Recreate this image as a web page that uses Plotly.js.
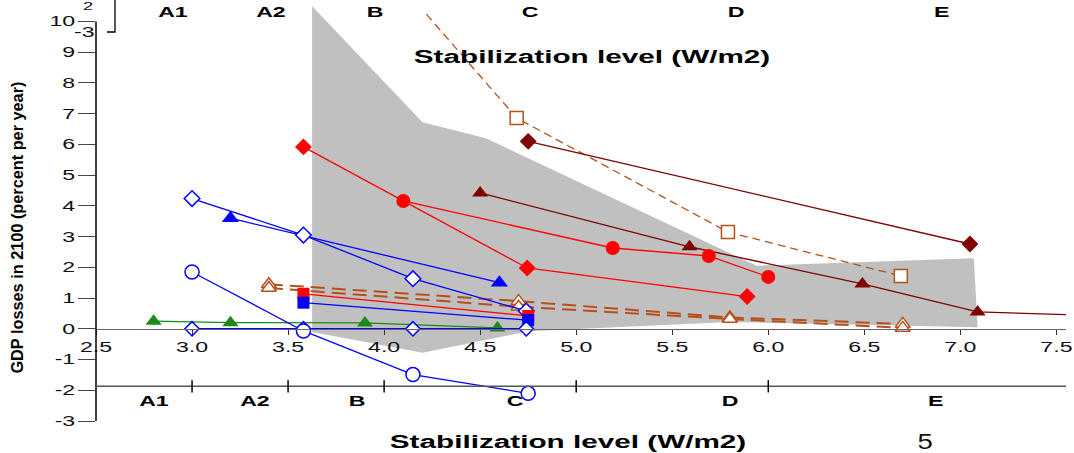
<!DOCTYPE html>
<html>
<head>
<meta charset="utf-8">
<script src="https://cdn.plot.ly/plotly-3.0.1.min.js"></script>
<style>html,body{margin:0;padding:0;background:#fff;}#chart{width:1074px;height:453px;}</style>
</head>
<body>
<div id="chart"></div>
<script>
// ---------- data ----------
const bandX = [3.625, 4.2, 4.53, 5.94, 7.07, 7.09, 5.8, 4.75, 4.2, 3.625];
const bandY = [10.5, 6.72, 6.2, 2.05, 2.3, 0.05, 0.22, -0.08, -0.78, -0.1];

const blueDiamondX = [3.0, 3.58, 4.15, 4.74];
const blueDiamondY = [4.24, 3.05, 1.63, 0.58];
const blueTriX = [3.2, 4.6];
const blueTriY = [3.6, 1.5];
const blueZeroX = [3.0, 3.58, 4.15, 4.74];
const blueZeroY = [0, 0, 0, 0];
const blueCircX = [3.0, 3.58, 4.15, 4.75];
const blueCircY = [1.85, -0.07, -1.49, -2.1];
const greenTriX = [2.8, 3.2, 3.9, 4.59];
const greenTriY = [0.25, 0.2, 0.19, 0.03];
const blueSqX = [3.58, 4.75];
const blueSqY = [0.85, 0.28];
const redSqX = [3.58, 4.75];
const redSqY = [1.14, 0.42];
const brownTriAX = [3.4, 4.7, 5.8, 6.7];
const brownTriAY = [1.45, 0.9, 0.37, 0.16];
const brownTriBX = [3.4, 4.7, 5.8, 6.7];
const brownTriBY = [1.33, 0.72, 0.32, 0.03];
const brownSqX = [4.22, 4.69, 5.79, 6.69];
const brownSqY = [10.24, 6.86, 3.15, 1.72];
const maroonDiaX = [4.75, 7.05];
const maroonDiaY = [6.1, 2.76];
const maroonTriX = [4.5, 5.59, 6.49, 7.09, 7.55];
const maroonTriY = [4.42, 2.67, 1.46, 0.55, 0.46];
const redDiaX = [3.58, 4.745, 5.89];
const redDiaY = [5.92, 1.98, 1.05];
const redCircX = [4.1, 5.19, 5.69, 6.0];
const redCircY = [4.16, 2.63, 2.37, 1.69];

const catLabels = ['A1', 'A2', 'B', 'C', 'D', 'E'];
const catTopX = [2.9, 3.41, 3.95, 4.76, 5.83, 6.9];
const catBottomX = [2.8, 3.33, 3.86, 4.68, 5.8, 6.87];
const catTicks = [3.0, 3.5, 4.0, 5.0, 6.0];
const xTickVals = [2.5, 3.0, 3.5, 4.0, 4.5, 5.0, 5.5, 6.0, 6.5, 7.0, 7.5];
const yTickVals = [-3, -2, -1, 0, 1, 2, 3, 4, 5, 6, 7, 8, 9, 10];
const xTitle = 'Stabilization level (W/m2)';
const yTitle = 'GDP losses in 2100 (percent per year)';

// ---------- layout helpers ----------
const W = 1074, H = 453, ML = 96, MR = 8, MT = 0, MB = 32;
const PW = W - ML - MR, PH = H - MT - MB;
const xr = [2.5, 7.55], yr = [-3, 10.7];
const px = p => (p - ML) / PW;
const py = p => (MT + PH - p) / PH;
const STRETCH = 1.65;

const BLUE = '#0000ff', RED = '#ff0000', MAROON = '#800000', GREEN = '#1a8a1a', BROWN = '#b5501c';

function tr(x, y, color, symbol, opts) {
  opts = opts || {};
  return {
    x: x, y: y, type: 'scatter', mode: 'lines+markers', hoverinfo: 'skip',
    line: {color: color, width: opts.width || 1.3, dash: opts.dash || 'solid'},
    marker: {symbol: symbol, size: opts.size || 12, color: opts.fill || color, opacity: 1,
             line: {color: color, width: opts.open ? 1.5 : 0}}
  };
}

const traces = [
  {x: bandX, y: bandY, type: 'scatter', mode: 'lines', fill: 'toself',
   fillcolor: '#c0c0c0', line: {width: 0, color: '#c0c0c0'}, hoverinfo: 'skip'},
  tr(brownSqX, brownSqY, BROWN, 'square', {open: true, fill: '#ffffff', dash: '8px,5px',
     size: brownSqX.map((v, i) => i === 0 ? 0 : 13)}),
  tr(maroonDiaX, maroonDiaY, MAROON, 'diamond', {size: 13}),
  tr(maroonTriX, maroonTriY, MAROON, 'triangle-up',
     {size: maroonTriX.map((v, i) => i === maroonTriX.length - 1 ? 0 : 14)}),
  tr(redDiaX, redDiaY, RED, 'diamond', {size: 13}),
  tr(redCircX, redCircY, RED, 'circle', {size: 14}),
  tr(brownTriAX, brownTriAY, BROWN, 'triangle-up', {open: true, fill: '#ffffff', dash: '14px,7px', width: 2, size: 13}),
  tr(brownTriBX, brownTriBY, BROWN, 'triangle-up', {open: true, fill: '#ffffff', dash: '14px,7px', width: 2, size: 13}),
  tr(blueTriX, blueTriY, BLUE, 'triangle-up', {size: 15}),
  tr(blueDiamondX, blueDiamondY, BLUE, 'diamond', {open: true, fill: '#ffffff', size: 12}),
  tr(greenTriX, greenTriY, GREEN, 'triangle-up', {size: 14}),
  tr(redSqX, redSqY, RED, 'square', {size: 12}),
  tr(blueSqX, blueSqY, BLUE, 'square', {size: 12}),
  tr(blueZeroX, blueZeroY, BLUE, 'diamond', {open: true, fill: '#ffffff', size: 11, width: 1.8}),
  tr(blueCircX, blueCircY, BLUE, 'circle', {open: true, fill: '#ffffff', size: 14})
];

const FAM = 'Liberation Sans, Arial, sans-serif';
const tickFont = {family: FAM, size: 14, color: '#111'};
const boldFont = s => ({family: FAM, size: s, color: '#000', weight: 'bold'});

const annotations = [];
const annStretch = [];
function addAnn(a, s) { a.showarrow = false; a.xanchor = 'center'; a.yanchor = 'middle'; annotations.push(a); annStretch.push(s); }
catLabels.forEach((t, i) => {
  addAnn({x: catTopX[i], y: 10.32, xref: 'x', yref: 'y', text: t, font: boldFont(14)}, STRETCH);
  addAnn({x: catBottomX[i], y: -2.34, xref: 'x', yref: 'y', text: t, font: boldFont(14)}, STRETCH);
});
addAnn({x: px(592), y: py(57), xref: 'paper', yref: 'paper', text: xTitle, font: boldFont(18)}, STRETCH);
addAnn({x: px(568), y: py(442), xref: 'paper', yref: 'paper', text: xTitle, font: boldFont(18)}, STRETCH);
addAnn({x: px(17), y: py(228), xref: 'paper', yref: 'paper', text: yTitle, textangle: -90,
  font: boldFont(17)}, 'len:292');
addAnn({x: px(925), y: py(441), xref: 'paper', yref: 'paper', text: '5',
  font: {family: FAM, size: 22, color: '#111'}}, 1.25);
addAnn({x: px(88), y: py(6), xref: 'paper', yref: 'paper', text: '2', font: {family: FAM, size: 11, color: '#111'}}, STRETCH);
addAnn({x: px(84), y: py(32), xref: 'paper', yref: 'paper', text: '-3', font: tickFont}, STRETCH);

const shapes = [
  {type: 'line', xref: 'paper', yref: 'y', x0: 0, x1: 0, y0: -3, y1: 10, line: {color: '#000', width: 1.5}},
  {type: 'line', xref: 'x', yref: 'y', x0: xr[0], x1: xr[1], y0: -1.87, y1: -1.87, line: {color: '#555', width: 1.5}},
  {type: 'path', xref: 'paper', yref: 'paper',
   path: 'M ' + px(115) + ' ' + py(-2) + ' L ' + px(115) + ' ' + py(32) + ' L ' + px(107) + ' ' + py(32),
   line: {color: '#000', width: 1.3}}
];
catTicks.forEach(v => shapes.push({type: 'line', xref: 'x', yref: 'y', x0: v, x1: v, y0: -2.07, y1: -1.67,
  line: {color: '#000', width: 1.5}}));

const layout = {
  width: W, height: H, margin: {l: ML, r: MR, t: MT, b: MB, pad: 0},
  paper_bgcolor: '#fff', plot_bgcolor: '#fff', showlegend: false,
  xaxis: {range: xr, anchor: 'free', position: (0 - yr[0]) / (yr[1] - yr[0]),
    tickvals: xTickVals, ticktext: xTickVals.map(v => v.toFixed(1)),
    ticks: 'outside', ticklen: 5, tickcolor: '#333', showline: true, linecolor: '#666', linewidth: 1.5,
    showgrid: false, zeroline: false, tickfont: tickFont, fixedrange: true},
  yaxis: {range: yr, tickvals: yTickVals, ticktext: yTickVals.map(v => String(v)),
    ticks: 'outside', ticklen: 17, tickcolor: '#444',
    showline: false, showgrid: false, zeroline: false, tickfont: tickFont, fixedrange: true},
  annotations: annotations, shapes: shapes
};

function stretch(el, s) {
  if (!el) return;
  let target;
  if (typeof s === 'string') target = parseFloat(s.split(':')[1]);
  else target = el.getComputedTextLength() * s;
  el.setAttribute('textLength', target);
  el.setAttribute('lengthAdjust', 'spacingAndGlyphs');
}

Plotly.newPlot('chart', traces, layout, {staticPlot: true, displayModeBar: false}).then(gd => {
  gd.querySelectorAll('g.annotation').forEach(g => {
    const i = parseInt(g.getAttribute('data-index'));
    stretch(g.querySelector('text.annotation-text'), annStretch[i]);
  });
  gd.querySelectorAll('g.xtick text, g.ytick text').forEach(t => stretch(t, STRETCH));
});
</script>
</body>
</html>
